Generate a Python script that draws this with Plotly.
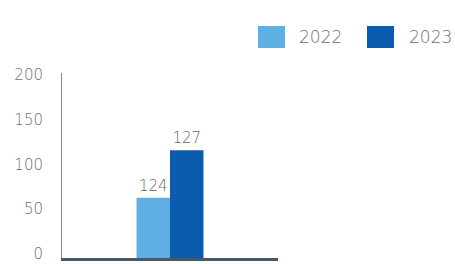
import plotly.graph_objects as go

categories = [""]
years = ["2022", "2023"]
values_2022 = [67]
values_2023 = [120]
labels_2022 = ["124"]
labels_2023 = ["127"]
colors = ["#60AFE4", "#0B5CAE"]
y_ticks = [0, 50, 100, 150, 200]

FONT = "DejaVu Sans"
L, R, T, B = 62, 278, 73, 258
PW, PH = R - L, B - T

fig = go.Figure()
for name, vals, labs, col in [(years[0], values_2022, labels_2022, colors[0]),
                              (years[1], values_2023, labels_2023, colors[1])]:
    fig.add_trace(go.Bar(
        x=categories, y=vals, name=name, marker_color=col,
        marker_line_width=0, text=labs, textposition="outside",
        textfont=dict(family=FONT, size=15, color="#666666", weight=200),
        cliponaxis=False, showlegend=False,
    ))

fig.update_layout(
    width=455, height=264,
    margin=dict(l=L, r=455 - R, t=T, b=264 - B, autoexpand=False),
    paper_bgcolor="white", plot_bgcolor="white",
    barmode="group", bargap=0.69, bargroupgap=0,
    font=dict(family=FONT, color="#777777"),
    xaxis=dict(showticklabels=False, showgrid=False, zeroline=False,
               showline=True, linecolor="#4B5966", linewidth=3, ticks="",
               automargin=False),
    yaxis=dict(range=[0, PH / 0.8975], tickvals=y_ticks, showgrid=False,
               zeroline=False, showline=True, linecolor="#8a8a8a", linewidth=1,
               ticks="", ticklabelstandoff=15, ticklabelshift=-4,
               ticklabeloverflow="allow", automargin=False,
               tickfont=dict(family=FONT, size=15, color="#707070", weight=200)),
)

# legend drawn as swatches + text
legend_items = [(years[0], colors[0], 258, 298), (years[1], colors[1], 367, 408)]
for name, col, x0, tx in legend_items:
    fig.add_shape(type="rect", xref="paper", yref="paper",
                  x0=(x0 - L) / PW, x1=(x0 + 27 - L) / PW,
                  y0=(B - 48) / PH, y1=(B - 26) / PH,
                  fillcolor=col, line_width=0)
    fig.add_annotation(xref="paper", yref="paper", x=(tx - L) / PW,
                       y=(B - 37.5) / PH, text=name, showarrow=False,
                       xanchor="left", yanchor="middle", xshift=-1,
                       font=dict(family=FONT, size=17, color="#707070", weight=200))

fig.write_html("out.html", config={"displayModeBar": False},
               post_script="document.body.style.margin='0';document.body.style.overflow='hidden';")
